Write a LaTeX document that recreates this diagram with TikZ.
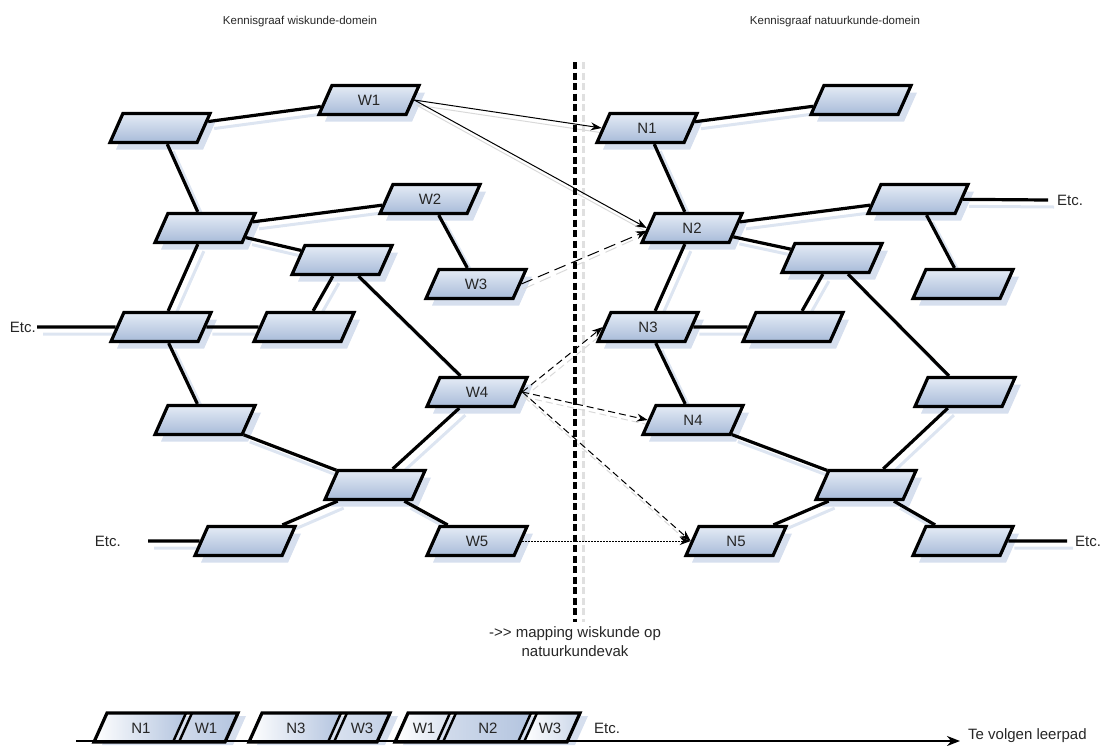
\documentclass[tikz,border=0pt]{standalone}
\usepackage{fontspec}
\setmainfont{Liberation Sans}
\usetikzlibrary{shapes.geometric,arrows.meta,backgrounds,calc}
\definecolor{nodetop}{HTML}{E4EBF5}
\definecolor{nodebot}{HTML}{A8BBD8}
\definecolor{shadowc}{HTML}{D6DFEE}
\definecolor{lshadow}{HTML}{DDE5F1}
\definecolor{segblue}{HTML}{B3C4DF}
\newcommand\bpar[2]{(#1,713) -- (#2,713) -- (#2-13,742) -- (#1-13,742) -- cycle}
\tikzset{
  pgeom/.style={trapezium, trapezium left angle=66, trapezium right angle=114,
    trapezium stretches body, minimum width=100pt, minimum height=29pt,
    inner xsep=0pt, inner ysep=9pt, text height=11pt, text depth=0pt},
  pbox/.style={pgeom, draw=black, line width=3.2pt, top color=nodetop, bottom color=nodebot,
    font=\fontsize{15}{17}\selectfont, text=black!85},
  pshadow/.style={pgeom, fill=shadowc},
  link/.style={line width=3.2pt, black},
  linkshadow/.style={line width=3pt, lshadow, transform canvas={xshift=6pt,yshift=-7pt}},
  maparrow/.style={line width=1pt, black, -{Stealth[length=11pt,width=8pt]}},
  mapshadow/.style={line width=1pt, black!15, transform canvas={xshift=2pt,yshift=-5pt}},
  lbl/.style={font=\fontsize{15}{17}\selectfont, inner sep=0pt, text=black!85},
  ttl/.style={font=\fontsize{11.5}{14}\selectfont, inner sep=0pt, text=black!85},
}
\begin{document}
\begin{tikzpicture}[x=1pt,y=-1pt]
\useasboundingbox (0,0) rectangle (1110,745);

% titles
\node[ttl] (t1) at (300,22) {Kennisgraaf wiskunde-domein};
\node[ttl] (t2) at (835,22) {Kennisgraaf natuurkunde-domein};

% left graph
\node[pbox] (A1) at (160,128) {};
\node[pbox] (W1) at (369,100) {W1};
\node[pbox] (A2) at (205,228) {};
\node[pbox] (W2) at (430,199) {W2};
\node[pbox] (A3) at (342,260) {};
\node[pbox] (W3) at (476,284) {W3};
\node[pbox] (A4) at (161,327) {};
\node[pbox] (A5) at (304,327) {};
\node[pbox] (W4) at (477,392) {W4};
\node[pbox] (A6) at (205,420) {};
\node[pbox] (A7) at (375,485) {};
\node[pbox] (A8) at (245,541) {};
\node[pbox] (W5) at (477,541) {W5};

% right graph
\node[pbox] (N1) at (647,128) {N1};
\node[pbox] (B1) at (861,100) {};
\node[pbox] (N2) at (692,228) {N2};
\node[pbox] (B2) at (918,199) {};
\node[pbox] (B3) at (832,258) {};
\node[pbox] (B4) at (963,284) {};
\node[pbox] (N3) at (648,327) {N3};
\node[pbox] (B5) at (793,327) {};
\node[pbox] (B6) at (965,392) {};
\node[pbox] (N4) at (693,420) {N4};
\node[pbox] (B7) at (866,485) {};
\node[pbox] (N5) at (736,541) {N5};
\node[pbox] (B8) at (963,541) {};

% Etc. labels and free ends
\node[lbl, anchor=east] (etcA) at (36,327) {Etc.};
\coordinate (eA) at (37,327);
\node[lbl, anchor=east] (etcB) at (121,541) {Etc.};
\coordinate (eB) at (148,541);
\node[lbl, anchor=west] (etcC) at (1057,200) {Etc.};
\coordinate (eC) at (1048,200);
\node[lbl, anchor=west] (etcD) at (1075,541) {Etc.};
\coordinate (eD) at (1067,541);

% vertical separator
\coordinate (vtop) at (575,62);
\coordinate (vbot) at (575,622);

\begin{pgfonlayer}{background}
  \foreach \n in {A1,W1,A2,W2,A3,W3,A4,A5,W4,A6,A7,A8,W5,N1,B1,N2,B2,B3,B4,N3,B5,B6,N4,B7,N5,B8}
    \node[pshadow] at ([xshift=6pt,yshift=-7pt]\n.center) {};
  \foreach \a/\b in {A1/W1,A1/A2,A2/W2,A2/A3,W2/W3,A2/A4,A3/A5,A3/W4,A4/A5,eA/A4,A4/A6,A6/A7,W4/A7,A7/A8,A7/W5,eB/A8,
                     N1/B1,N1/N2,N2/B2,N2/B3,B2/B4,B2/eC,N2/N3,B3/B5,B3/B6,N3/B5,N3/N4,N4/B7,B6/B7,B7/N5,B7/B8,B8/eD}
    \draw[linkshadow] (\a) -- (\b);
  \draw[line width=3pt, black!12, dash pattern=on 7pt off 3.5pt, transform canvas={xshift=8pt}] (vtop) -- (vbot);
  \draw[mapshadow] (W1.east) -- (N1.west);
  \draw[mapshadow] (W1.east) -- (N2.west);
  \draw[mapshadow, dash pattern=on 12pt off 6pt] (W3.east) -- (N2.west);
  \draw[mapshadow, dash pattern=on 7pt off 4pt] (W4.east) -- (N3.west);
  \draw[mapshadow, dash pattern=on 7pt off 4pt] (W4.east) -- (N4.west);
  \draw[mapshadow, dash pattern=on 7pt off 4pt] (W4.east) -- (N5.west);
  % bottom compound shadows
  \fill[shadowc] (115,716) -- (246,716) -- (233,745) -- (102,745) -- cycle;
  \fill[shadowc] (270,716) -- (398,716) -- (385,745) -- (257,745) -- cycle;
  \fill[shadowc] (416,716) -- (588,716) -- (575,745) -- (403,745) -- cycle;
\end{pgfonlayer}

% graph links
\foreach \a/\b in {A1/W1,A1/A2,A2/W2,A2/A3,W2/W3,A2/A4,A3/A5,A3/W4,A4/A5,eA/A4,A4/A6,A6/A7,W4/A7,A7/A8,A7/W5,eB/A8,
                   N1/B1,N1/N2,N2/B2,N2/B3,B2/B4,B2/eC,N2/N3,B3/B5,B3/B6,N3/B5,N3/N4,N4/B7,B6/B7,B7/N5,B7/B8,B8/eD}
  \draw[link] (\a) -- (\b);

% separator
\draw[line width=3.5pt, dash pattern=on 7pt off 3.5pt] (vtop) -- (vbot);

% mapping arrows
\draw[maparrow] (W1.east) -- (N1.west);
\draw[maparrow] (W1.east) -- (N2.west);
\draw[maparrow, dash pattern=on 12pt off 6pt] (W3.east) -- ([yshift=-3pt]N2.west);
\draw[maparrow, dash pattern=on 7pt off 4pt] (W4.east) -- (N3.west);
\draw[maparrow, dash pattern=on 7pt off 4pt] (W4.east) -- (N4.west);
\draw[maparrow, dash pattern=on 7pt off 4pt] (W4.east) -- (N5.west);
\draw[maparrow, dash pattern=on 1.5pt off 1.5pt] (W5.east) -- (N5.west);

% mapping label
\node[lbl, align=center, font=\fontsize{15}{19}\selectfont] (maplbl) at (575,642)
  {-\kern0pt>\kern0pt>\kern0pt{} mapping wiskunde op\\natuurkundevak};

% bottom learning path
\shade[left color=white, right color=segblue] \bpar{107}{186};
\shade[left color=segblue!60, right color=segblue] \bpar{192}{238};
\shade[left color=white, right color=segblue] \bpar{262}{341};
\shade[left color=segblue!50, right color=segblue!80] \bpar{347}{390};
\shade[left color=white, right color=segblue!50] \bpar{408}{450};
\shade[left color=segblue!60, right color=segblue] \bpar{456}{531};
\shade[left color=white, right color=segblue!70] \bpar{537}{580};
\draw[line width=3.2pt, line join=miter] \bpar{107}{238};
\draw[line width=3.2pt, line join=miter] \bpar{262}{390};
\draw[line width=3.2pt, line join=miter] \bpar{408}{580};
\foreach \x in {186,192,341,347,450,456,531,537}
  \draw[line width=2.4pt] (\x,713) -- (\x-13,742);
\node[lbl] (p1) at (141,728) {N1};
\node[lbl] (p2) at (206,728) {W1};
\node[lbl] (p3) at (296,728) {N3};
\node[lbl] (p4) at (362,728) {W3};
\node[lbl] (p5) at (424,728) {W1};
\node[lbl] (p6) at (488,728) {N2};
\node[lbl] (p7) at (550,728) {W3};
\node[lbl, anchor=west] (p8) at (594,728) {Etc.};
\coordinate (ps) at (76,741);
\coordinate (pe) at (960,741);
\draw[line width=2.5pt, -{Stealth[length=13pt,width=10pt]}] (ps) -- (pe);
\node[lbl, anchor=west] (leer) at (968,736) {Te volgen leerpad};
\end{tikzpicture}
\end{document}
